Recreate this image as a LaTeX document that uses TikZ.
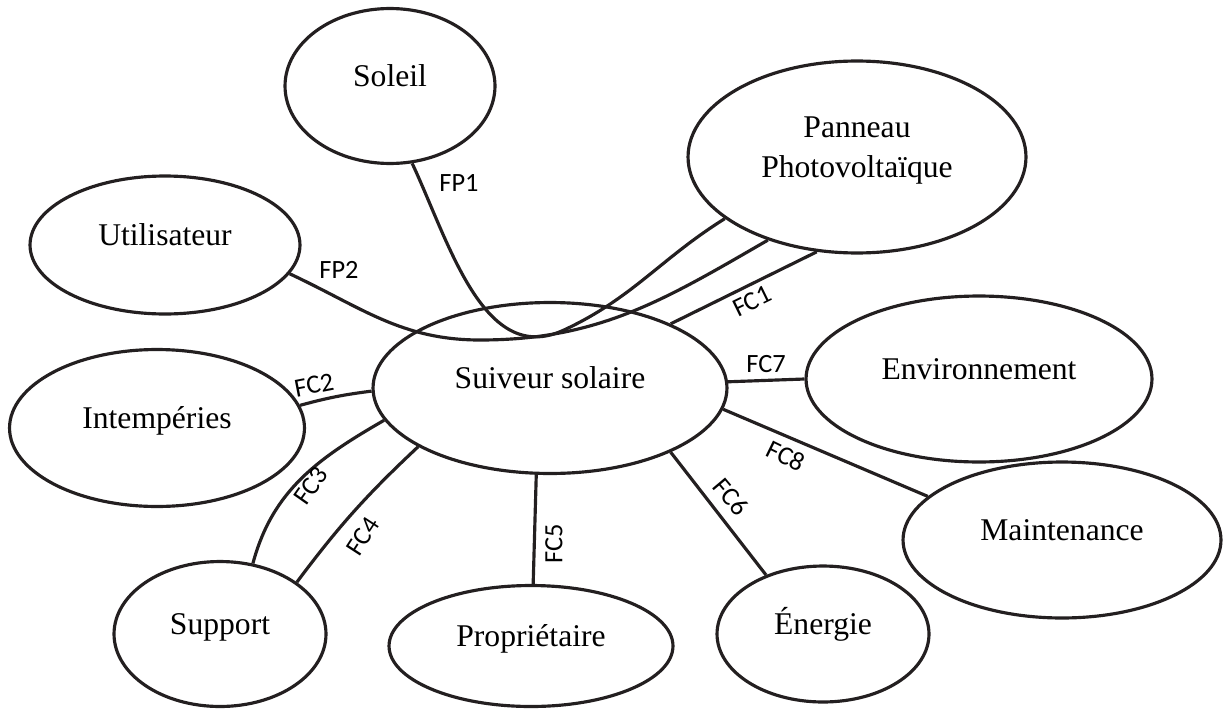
\documentclass[tikz,border=0pt]{standalone}
\usepackage{fontspec}
\setmainfont{Liberation Serif}
\newfontfamily\calibri{Carlito}
\usetikzlibrary{shapes.geometric}
\definecolor{trait}{HTML}{231F20}

\begin{document}
\begin{tikzpicture}[x=0.02cm, y=0.02cm,
            acteur/.style={draw=trait, ellipse, line width=1.8pt, inner sep=0pt, text height=12pt, text depth=12pt, font=\fontsize{18}{22.7}\selectfont},
            liaison/.style={draw=trait, line width=1.8pt},
            fc/.style={inner sep=0pt, font=\calibri\fontsize{15}{17}\selectfont}]

            \useasboundingbox (0,0) rectangle (1229,708);

            % Systeme et milieux exterieurs
            \node[acteur, minimum width=7.08cm, minimum height=3.42cm] (suiveur) at (550,320) {Suiveur solaire};
            \node[acteur, minimum width=4.2cm, minimum height=3.1cm] (soleil) at (390,622) {Soleil};
            \node[acteur, minimum width=6.76cm, minimum height=3.84cm, text depth=34pt] (panneau) at (857,551) {\begin{tabular}[t]{@{}c@{}}Panneau\\Photovolta\"ique\end{tabular}};
            \node[acteur, minimum width=5.4cm, minimum height=2.76cm] (utilisateur) at (165,463) {Utilisateur};
            \node[acteur, minimum width=5.9cm, minimum height=3.14cm] (intemperies) at (157,280) {Intempéries};
            \node[acteur, minimum width=6.92cm, minimum height=3.32cm] (environnement) at (979,329) {Environnement};
            \node[acteur, minimum width=6.36cm, minimum height=3.12cm] (maintenance) at (1062,168) {Maintenance};
            \node[acteur, minimum width=4.24cm, minimum height=2.9cm] (support) at (220,74) {Support};
            \node[acteur, minimum width=5.68cm, minimum height=2.42cm] (proprietaire) at (531,62) {Propriétaire};
            \node[acteur, minimum width=4.24cm, minimum height=2.72cm] (energie) at (823,74) {Énergie};

            % Fonctions principales (passent par le systeme)
            \coordinate (fp1bas) at (564,378);
            \coordinate (fp2bas) at (480,368);
            \draw[liaison] (soleil.286) to[out=-65,in=205] (fp1bas) to[out=25,in=212] (panneau.205);
            \draw[liaison] (utilisateur.347) to[out=-25,in=180] (fp2bas) to[out=0,in=210] (panneau.223);

            % Fonctions contraintes
            \draw[liaison] (suiveur.28) -- (panneau.247);
            \draw[liaison] (intemperies.9) to[bend left=4] (suiveur.181);
            \draw[liaison] (support.65) to[out=75,in=210] (suiveur.191);
            \draw[liaison] (support.34) to[bend left=5] (suiveur.204);
            \draw[liaison] (suiveur.261) -- (proprietaire.88);
            \draw[liaison] (suiveur.332) -- (energie.134);
            \draw[liaison] (suiveur.2) -- (environnement.180);
            \draw[liaison] (suiveur.353) -- (maintenance.162);

            % Etiquettes
            \node[fc] (lfp1) at (459,525) {FP1};
            \node[fc] (lfp2) at (339,438) {FP2};
            \node[fc, rotate=26] (lfc1) at (752,407) {FC1};
            \node[fc, rotate=11] (lfc2) at (314,323) {FC2};
            \node[fc, rotate=55] (lfc3) at (311,222) {FC3};
            \node[fc, rotate=57] (lfc4) at (363,172) {FC4};
            \node[fc, rotate=90] (lfc5) at (554,164) {FC5};
            \node[fc, rotate=-50] (lfc6) at (731,211) {FC6};
            \node[fc] (lfc7) at (766,344) {FC7};
            \node[fc, rotate=-26] (lfc8) at (786,252) {FC8};
        \end{tikzpicture}
\end{document}
